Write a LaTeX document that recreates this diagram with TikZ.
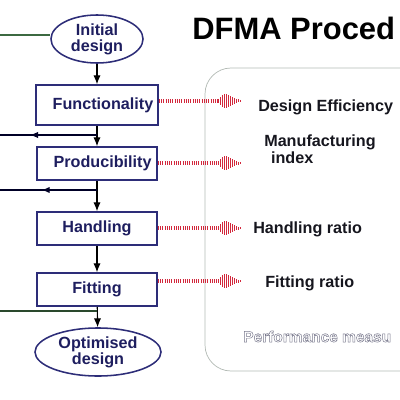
\documentclass[tikz,border=0pt]{standalone}
\usepackage{fontspec}
\setmainfont{Liberation Sans}
\usetikzlibrary{shapes,arrows.meta,decorations.markings,calc}
\definecolor{boxblue}{RGB}{45,45,120}
\definecolor{boxtext}{RGB}{30,30,95}
\definecolor{dotred}{RGB}{210,40,60}
\definecolor{labelblack}{RGB}{22,22,30}
\definecolor{leftgreen}{RGB}{60,105,65}
\definecolor{framegrey}{RGB}{178,186,180}
\definecolor{perfgrey}{RGB}{120,120,140}

\begin{document}
\begin{tikzpicture}[x=0.025cm,y=-0.025cm,
  every node/.style={font=\fontsize{11.5}{11.5}\selectfont\bfseries},
  stage/.style={shape=rectangle,draw=boxblue,text=boxtext,line width=1.1pt,minimum width=3cm,minimum height=0.825cm},
  ends/.style={shape=ellipse,draw=boxblue,text=boxtext,line width=1.1pt,align=center,inner sep=0pt,minimum height=1.2cm},
  flow/.style={draw=black,line width=0.8pt,-{Latex[length=2.2mm,width=1.8mm]}},
  back/.style={draw=black!85!blue,line width=0.8pt},
  reddot/.style={draw=dotred,line width=0.08cm,dash pattern=on 0.8pt off 0.8pt},
  burst/.style={draw=dotred,line width=0.65pt},
  measure/.style={anchor=base west,text=labelblack,align=left,inner sep=0pt}]
\useasboundingbox (0,0) rectangle (400,400);
\clip (0,0) rectangle (400,400);

\draw[framegrey,line width=0.5pt,rounded corners=0.65cm] (205,68) rectangle (430,371);

\node[anchor=base west,inner sep=0pt,text=black,font=\fontsize{22}{22}\selectfont\bfseries] (title) at (192,40) {DFMA Proced};

\node[ends,minimum width=2.3cm] (init) at (97,39) {Initial\\design};
\node[stage,minimum height=1cm] (func) at (97,105) {\hspace*{0.3cm}Functionality};
\node[stage] (prod) at (97,163.5) {\hspace*{0.28cm}Producibility};
\node[stage] (hand) at (97,228.5) {Handling};
\node[stage] (fit) at (97,289.5) {Fitting};
\node[ends,minimum width=3.15cm] (opt) at (98,352) {Optimised\\design};

\path [flow] (init) edge (func);
\path [flow] (func) edge (prod);
\path [flow] (prod) edge (hand);
\path [flow] (hand) edge (fit);
\path [flow] (fit) edge (opt);

\coordinate (o0) at (0,35);
\coordinate (j1) at (97,135);
\coordinate (o1) at (0,135);
\coordinate (j2) at (97,190);
\coordinate (o2) at (0,190);
\coordinate (j3) at (97,311);
\coordinate (o3) at (0,311);
\draw[leftgreen,line width=0.8pt] (o0 -| init.west) -- (o0);
\draw[back,postaction={decorate},decoration={markings,mark=at position 0.69 with {\arrow{Latex[length=2mm,width=1.6mm]}}}] (j1) -- (o1);
\draw[back,postaction={decorate},decoration={markings,mark=at position 0.57 with {\arrow{Latex[length=2mm,width=1.6mm]}}}] (j2) -- (o2);
\draw[leftgreen!70!black,line width=0.8pt] (j3) -- (o3);

\coordinate (b1) at (218,101);
\coordinate (b2) at (218,163);
\coordinate (b3) at (218,228);
\coordinate (b4) at (218,281);
\draw[reddot] (b1 -| func.east) -- (b1);
\draw[reddot] (b2 -| prod.east) -- (b2);
\draw[reddot] (b3 -| hand.east) -- (b3);
\draw[reddot] (b4 -| fit.east) -- (b4);
\foreach \b in {b1,b2,b3,b4}{
  \foreach \h [count=\i] in {2,4,6,7,7,6,5,4,3,2,1.5,1}{
    \draw[burst] ($(\b)+(2*\i-2,-\h)$) -- ($(\b)+(2*\i-2,\h)$);
  }
}

\node[measure] (eff) at (258,112) {Design Efficiency};
\node[measure] (manu) at (264,163) {Manufacturing\\\hspace*{1.7mm}index};
\node[measure] (hratio) at (253,233) {Handling ratio};
\node[measure] (fratio) at (265,287) {Fitting ratio};
\node[measure,text=perfgrey,font=\fontsize{11}{11}\selectfont\bfseries] (perf) at (243,342) {\special{pdf:literal direct 1 Tr 0.35 w}Performance measu\special{pdf:literal direct 0 Tr}};
\end{tikzpicture}
\end{document}
